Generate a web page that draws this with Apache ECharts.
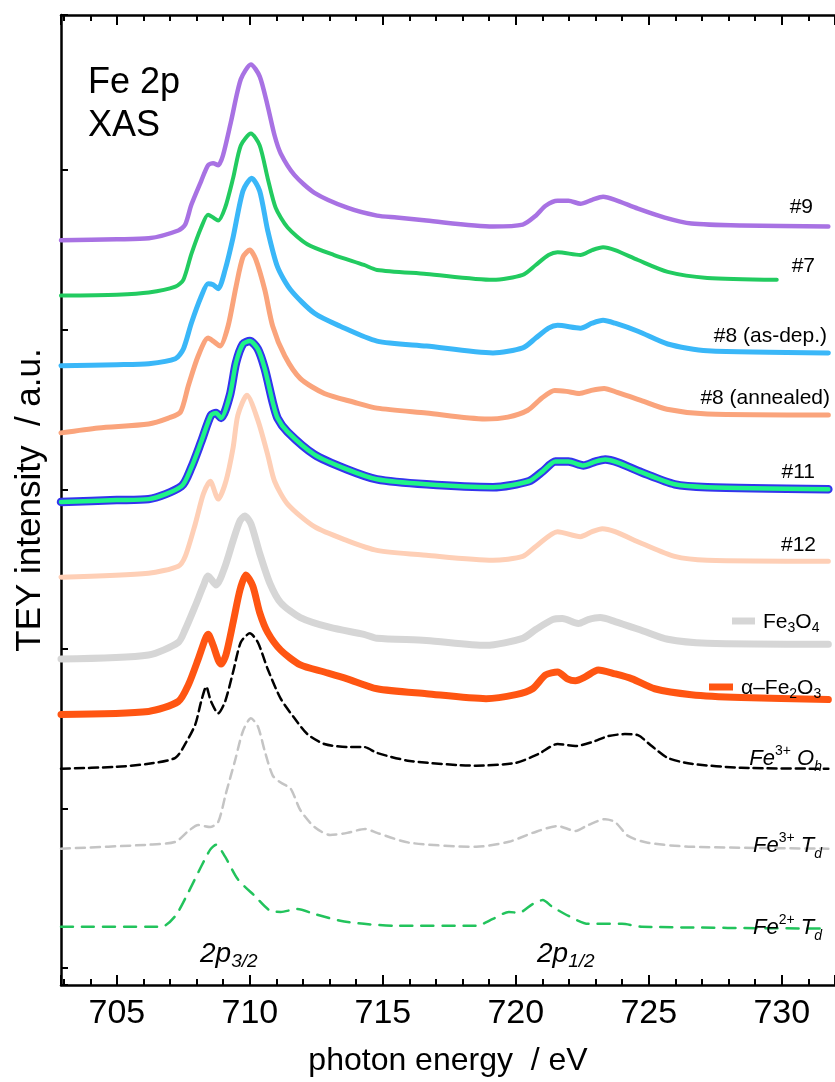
<!DOCTYPE html>
<html>
<head>
<meta charset="utf-8">
<script src="https://cdn.jsdelivr.net/npm/echarts@6/dist/echarts.min.js"></script>
<style>
  html, body { margin: 0; padding: 0; background: #fff; overflow: hidden; }
  #chart { width: 835px; height: 1082px; }
</style>
</head>
<body>
<div id="chart"></div>
<script>
// Fe 2p XAS spectra, vertically offset: [photon energy (eV), TEY intensity (a.u.)]
const sample9 = [[702.9,4.561],[705.0,4.567],[706.2,4.573],[707.31,4.622],[707.57,4.659],[707.80,4.783],[708.17,4.932],[708.43,5.031],[708.62,5.043],[708.81,5.031],[708.99,5.093],[709.29,5.303],[709.66,5.569],[710.04,5.662],[710.37,5.588],[710.67,5.402],[710.93,5.217],[711.16,5.105],[711.68,4.969],[712.43,4.858],[713.66,4.765],[714.78,4.715],[715.52,4.703],[716.64,4.684],[719.14,4.647],[720.26,4.659],[720.75,4.715],[721.12,4.777],[721.57,4.808],[721.98,4.808],[722.43,4.790],[722.87,4.814],[723.28,4.833],[723.73,4.814],[724.59,4.759],[725.60,4.703],[726.60,4.666],[728.47,4.653],[731.75,4.647]];

const sample7 = [[702.9,4.214],[705.0,4.220],[706.2,4.233],[707.20,4.270],[707.50,4.313],[707.80,4.474],[708.17,4.641],[708.43,4.721],[708.62,4.703],[708.81,4.684],[709.07,4.765],[709.37,4.950],[709.66,5.155],[710.04,5.229],[710.37,5.155],[710.67,4.950],[710.97,4.765],[711.42,4.641],[712.16,4.536],[713.17,4.468],[714.29,4.406],[714.78,4.375],[716.64,4.350],[719.14,4.313],[720.26,4.344],[720.75,4.406],[721.23,4.468],[721.57,4.486],[722.43,4.468],[722.87,4.499],[723.28,4.517],[723.73,4.499],[724.59,4.437],[725.71,4.363],[727.20,4.325],[729.81,4.313]];

const sample8AsDep = [[702.9,3.775],[705.0,3.781],[706.2,3.787],[707.20,3.818],[707.50,3.880],[707.80,4.041],[708.17,4.208],[708.43,4.288],[708.62,4.282],[708.81,4.257],[709.07,4.375],[709.37,4.579],[709.74,4.870],[710.07,4.950],[710.37,4.870],[710.67,4.623],[711.04,4.394],[711.53,4.251],[712.43,4.103],[713.40,4.022],[714.78,3.929],[716.64,3.898],[719.14,3.855],[720.26,3.886],[720.75,3.948],[721.23,4.010],[721.57,4.028],[722.43,4.010],[722.87,4.041],[723.28,4.059],[723.73,4.041],[724.59,3.991],[725.71,3.911],[727.20,3.868],[731.75,3.855]];

const sample8Annealed = [[702.9,3.354],[704.3,3.385],[706.19,3.410],[706.94,3.447],[707.39,3.484],[707.69,3.651],[708.06,3.837],[708.43,3.948],[708.62,3.929],[708.88,3.898],[709.18,4.022],[709.48,4.270],[709.74,4.455],[710.00,4.499],[710.22,4.443],[710.56,4.251],[710.86,4.022],[711.31,3.837],[711.90,3.694],[712.80,3.601],[713.92,3.546],[714.78,3.509],[716.64,3.478],[718.84,3.441],[719.70,3.453],[720.45,3.496],[720.97,3.571],[721.46,3.620],[721.90,3.614],[722.39,3.601],[722.84,3.620],[723.32,3.632],[723.81,3.608],[724.70,3.558],[725.68,3.502],[727.20,3.472],[731.75,3.466]];

const sample11 = [[702.9,2.921],[705.0,2.933],[706.19,2.939],[707.43,3.020],[707.80,3.137],[708.17,3.298],[708.54,3.465],[708.73,3.478],[708.92,3.447],[709.25,3.589],[709.48,3.793],[709.74,3.911],[710.00,3.929],[710.30,3.880],[710.56,3.756],[710.86,3.546],[711.04,3.447],[711.42,3.360],[712.43,3.218],[713.66,3.125],[714.78,3.063],[716.64,3.032],[719.14,3.014],[720.49,3.051],[721.01,3.113],[721.49,3.174],[721.98,3.174],[722.54,3.150],[722.99,3.174],[723.36,3.187],[723.84,3.168],[724.74,3.106],[725.97,3.032],[727.20,3.014],[731.75,3.001]];

const sample12 = [[702.9,2.450],[706.19,2.475],[707.31,2.519],[707.57,2.580],[707.95,2.785],[708.25,2.970],[708.51,3.051],[708.81,2.939],[709.10,3.051],[709.37,3.261],[709.55,3.465],[709.89,3.589],[710.30,3.434],[710.67,3.218],[710.93,3.051],[711.42,2.908],[712.43,2.766],[713.66,2.679],[714.78,2.618],[716.64,2.587],[719.14,2.556],[720.26,2.580],[720.75,2.642],[721.57,2.735],[722.43,2.704],[722.87,2.735],[723.25,2.754],[723.73,2.735],[724.74,2.661],[725.97,2.580],[727.20,2.556],[731.75,2.550]];

const refFe3O4 = [[702.9,1.937],[706.19,1.962],[707.31,2.042],[707.57,2.122],[707.95,2.271],[708.25,2.395],[708.43,2.457],[708.73,2.401],[709.07,2.519],[709.37,2.679],[709.63,2.803],[709.81,2.834],[710.04,2.785],[710.37,2.599],[710.75,2.413],[711.16,2.290],[711.90,2.197],[713.02,2.135],[714.29,2.092],[714.78,2.067],[716.64,2.054],[718.88,2.023],[720.26,2.067],[720.75,2.122],[721.38,2.184],[721.75,2.191],[722.35,2.160],[722.72,2.184],[723.17,2.197],[723.73,2.172],[724.74,2.116],[725.71,2.061],[727.20,2.036],[731.75,2.030]];

const refFe2O3 = [[702.9,1.590],[706.19,1.609],[707.31,1.671],[707.69,1.776],[708.06,1.937],[708.32,2.061],[708.43,2.092],[708.62,2.023],[708.81,1.931],[708.92,1.906],[709.10,1.962],[709.37,2.166],[709.63,2.370],[709.85,2.463],[710.11,2.395],[710.37,2.228],[710.67,2.104],[711.16,1.993],[711.90,1.900],[712.80,1.856],[713.66,1.813],[714.78,1.751],[716.64,1.720],[718.88,1.689],[720.00,1.714],[720.63,1.751],[721.12,1.838],[721.57,1.856],[721.94,1.813],[722.24,1.801],[722.61,1.825],[723.10,1.869],[723.73,1.844],[724.37,1.813],[725.22,1.751],[726.60,1.714],[728.47,1.696],[731.75,1.683]];

// calculated multiplet spectra
const calcFe3Oh = [[702.9,1.250],[705.0,1.262],[706.19,1.281],[707.20,1.318],[707.57,1.405],[707.95,1.528],[708.17,1.671],[708.36,1.764],[708.54,1.671],[708.81,1.597],[709.07,1.671],[709.37,1.856],[709.66,2.042],[710.00,2.098],[710.30,2.042],[710.67,1.875],[711.16,1.689],[711.68,1.566],[712.16,1.467],[712.80,1.405],[713.66,1.386],[714.29,1.386],[714.78,1.349],[716.01,1.299],[718.51,1.269],[720.00,1.287],[720.86,1.343],[721.57,1.405],[722.24,1.392],[722.87,1.417],[723.47,1.454],[724.10,1.467],[724.59,1.460],[725.11,1.392],[725.71,1.318],[726.60,1.281],[728.47,1.256],[731.75,1.250]];

const calcFe3Td = [[702.9,0.749],[706.19,0.774],[707.20,0.792],[707.69,0.860],[708.06,0.897],[708.51,0.885],[708.81,0.916],[709.10,1.095],[709.44,1.299],[709.74,1.485],[710.04,1.566],[710.30,1.516],[710.56,1.361],[710.86,1.207],[711.16,1.163],[711.53,1.126],[711.90,0.990],[712.43,0.885],[713.02,0.835],[713.66,0.848],[714.33,0.873],[714.78,0.848],[716.01,0.786],[718.51,0.761],[719.74,0.792],[720.63,0.848],[721.57,0.891],[722.24,0.860],[722.72,0.897],[723.36,0.934],[723.73,0.916],[724.22,0.829],[724.96,0.786],[726.60,0.761],[731.75,0.749]];

const calcFe2Td = [[702.9,0.260],[706.68,0.260],[707.20,0.328],[707.69,0.476],[708.17,0.637],[708.51,0.743],[708.73,0.774],[709.07,0.699],[709.55,0.557],[710.19,0.452],[710.78,0.359],[711.16,0.353],[711.79,0.371],[712.43,0.340],[713.40,0.297],[714.29,0.278],[715.52,0.266],[718.51,0.266],[719.14,0.309],[719.74,0.353],[720.11,0.347],[720.63,0.402],[721.01,0.427],[721.38,0.384],[721.98,0.328],[722.72,0.278],[723.99,0.278],[724.74,0.260],[731.75,0.248]];

const energyRange = [702.9, 732];
const intensityRange = [-0.105, 5.972];

const FONT = "'Liberation Sans', Arial, Helvetica, sans-serif";
const NARROW = "'Liberation Sans Narrow', 'Arial Narrow', 'Liberation Sans', Arial, sans-serif";

function curve(name, data, color, width, dash, z) {
  return {
    type: 'line', name: name, data: data,
    showSymbol: false, symbol: 'none', smooth: 0.25,
    lineStyle: { color: color, width: width, type: dash || 'solid', cap: 'round', join: 'round' },
    z: z || 2, animation: false, silent: true
  };
}

const chart = echarts.init(document.getElementById('chart'), null, { renderer: 'canvas' });

const axisLine = { show: true, onZero: false, lineStyle: { color: '#000', width: 2.5 } };

function label(text, x, y, align) {
  return {
    type: 'text', x: x, y: y, z: 100,
    style: {
      text: text, fill: '#000', fontFamily: FONT, fontSize: 21,
      align: align, verticalAlign: 'middle', textAlign: align, textVerticalAlign: 'middle'
    }
  };
}

const richStyles = {
  i: { fontFamily: FONT, fontSize: 22, fontStyle: 'italic', lineHeight: 30, verticalAlign: 'middle', fill: '#000' },
  sup: { fontFamily: FONT, fontSize: 14, lineHeight: 16, verticalAlign: 'top', fill: '#000' },
  sub: { fontFamily: FONT, fontSize: 14, fontStyle: 'italic', lineHeight: 16, verticalAlign: 'bottom', fill: '#000' },
  n: { fontFamily: FONT, fontSize: 21, lineHeight: 26, verticalAlign: 'middle', fill: '#000' },
  s: { fontFamily: FONT, fontSize: 14, lineHeight: 13, verticalAlign: 'bottom', fill: '#000' },
  pi: { fontFamily: FONT, fontSize: 28, fontStyle: 'italic', lineHeight: 34, verticalAlign: 'middle', fill: '#000' },
  ps: { fontFamily: FONT, fontSize: 19, fontStyle: 'italic', lineHeight: 18, verticalAlign: 'bottom', fill: '#000' }
};

function rich(text, x, y, align) {
  return {
    type: 'text', x: x, y: y, z: 100,
    style: {
      text: text, rich: richStyles, fill: '#000', fontFamily: FONT, fontSize: 21,
      align: align, verticalAlign: 'middle', textAlign: align, textVerticalAlign: 'middle'
    }
  };
}

chart.setOption({
  animation: false,
  backgroundColor: '#fff',
  grid: { left: 61, top: 15, bottom: 85, right: -6, containLabel: false },
  xAxis: [
    {
      type: 'value', position: 'bottom', min: energyRange[0], max: energyRange[1],
      axisLine: axisLine,
      axisTick: { show: true, inside: true, length: 10, lineStyle: { color: '#000', width: 2 } },
      minorTick: { show: true, splitNumber: 5, length: 6, lineStyle: { color: '#000', width: 2 } },
      axisLabel: { show: true, showMinLabel: false, showMaxLabel: false, margin: 12,
        fontFamily: NARROW, fontSize: 34, color: '#000' },
      splitLine: { show: false }, minorSplitLine: { show: false },
      name: 'photon energy  / eV', nameLocation: 'middle', nameGap: 60,
      nameTextStyle: { fontFamily: FONT, fontSize: 32, color: '#000' }
    },
    {
      type: 'value', position: 'top', min: energyRange[0], max: energyRange[1],
      axisLine: axisLine,
      axisTick: { show: true, inside: true, length: 10, lineStyle: { color: '#000', width: 2 } },
      minorTick: { show: true, splitNumber: 5, length: 6, lineStyle: { color: '#000', width: 2 } },
      axisLabel: { show: false }, splitLine: { show: false }
    }
  ],
  yAxis: [
    {
      type: 'value', position: 'left', min: intensityRange[0], max: intensityRange[1],
      axisLine: axisLine,
      axisTick: { show: true, inside: true, length: 7, lineStyle: { color: '#000', width: 2 } },
      axisLabel: { show: false }, splitLine: { show: false },
      name: 'TEY intensity  / a.u.', nameLocation: 'middle', nameRotate: 90, nameGap: 13,
      nameTextStyle: { fontFamily: FONT, fontSize: 35, color: '#000' }
    }
  ],
  series: [
    curve('Fe2+ Td', calcFe2Td, '#22c35c', 2.5, [12, 9]),
    curve('Fe3+ Td', calcFe3Td, '#c4c4c4', 2.5, [9, 6]),
    curve('Fe3+ Oh', calcFe3Oh, '#000000', 2.5, [9, 5]),
    curve('α–Fe2O3', refFe2O3, '#ff5512', 7),
    curve('Fe3O4', refFe3O4, '#d6d6d6', 7),
    curve('#12', sample12, '#fecfb6', 5),
    curve('#11', sample11, '#3434ee', 8.5),
    curve('#11', sample11, '#1ef487', 4.5, null, 3),
    curve('#8 (annealed)', sample8Annealed, '#faa47c', 5),
    curve('#8 (as-dep.)', sample8AsDep, '#3ab7f8', 5),
    curve('#7', sample7, '#22cb60', 4),
    curve('#9', sample9, '#a872e3', 4.5)
  ],
  graphic: [
    { type: 'text', left: 88, top: 62, z: 100,
      style: { text: 'Fe 2p\nXAS', fontFamily: FONT, fontSize: 36, lineHeight: 43, fill: '#000' } },
    label('#9', 813, 207, 'right'),
    label('#7', 815, 266, 'right'),
    label('#8 (as-dep.)', 827, 336, 'right'),
    label('#8 (annealed)', 830, 398, 'right'),
    label('#11', 815, 472, 'right'),
    label('#12', 816, 545, 'right'),
    { type: 'line', z: 100, shape: { x1: 732, y1: 621, x2: 755, y2: 621 },
      style: { stroke: '#d6d6d6', lineWidth: 7 } },
    rich('{n|Fe}{s|3}{n|O}{s|4}', 763, 622, 'left'),
    { type: 'line', z: 100, shape: { x1: 709, y1: 687, x2: 733, y2: 687 },
      style: { stroke: '#ff5512', lineWidth: 7 } },
    rich('{n|α–Fe}{s|2}{n|O}{s|3}', 741, 688, 'left'),
    rich('{i|Fe}{sup|3+}{i| O}{sub|h}', 822, 759, 'right'),
    rich('{i|Fe}{sup|3+}{i| T}{sub|d}', 822, 846, 'right'),
    rich('{i|Fe}{sup|2+}{i| T}{sub|d}', 822, 928, 'right'),
    rich('{pi|2p}{ps|3/2}', 200, 954, 'left'),
    rich('{pi|2p}{ps|1/2}', 537, 954, 'left')
  ]
});
</script>
</body>
</html>
